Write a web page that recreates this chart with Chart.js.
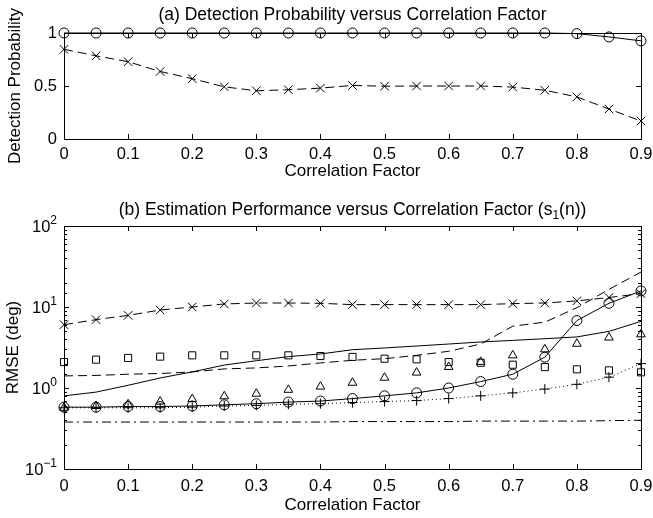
<!DOCTYPE html>
<html>
<head>
<meta charset="utf-8">
<script src="https://cdn.jsdelivr.net/npm/chart.js@4.4.1/dist/chart.umd.min.js"></script>
<style>
  html, body { margin: 0; padding: 0; background: #fff; }
  #wrap { position: relative; width: 653px; height: 518px; }
  canvas { position: absolute; left: 0; }
  #chartA { top: 0; }
  #chartB { top: 190px; }
</style>
</head>
<body>
<div id="wrap">
  <canvas id="chartA" width="653" height="190"></canvas>
  <canvas id="chartB" width="653" height="328"></canvas>
</div>
<script>
// correlation factor (x axis of both panels)
const corrFactor = [0, 0.05, 0.1, 0.15, 0.2, 0.25, 0.3, 0.35, 0.4, 0.45, 0.5, 0.55, 0.6, 0.65, 0.7, 0.75, 0.8, 0.85, 0.9];

// (a) detection probability
const detCircle = [1, 1, 1, 1, 1, 1, 1, 1, 1, 1, 1, 1, 1, 1, 1, 1, 0.994, 0.963, 0.926];
const detCross  = [0.846, 0.785, 0.729, 0.637, 0.569, 0.492, 0.455, 0.465, 0.48, 0.505, 0.498, 0.5, 0.5, 0.5, 0.49, 0.46, 0.397, 0.283, 0.17];

// (b) RMSE (deg), log scale
const rmseCross    = [6.05, 6.98, 7.88, 9.18, 10.0, 10.9, 11.2, 11.2, 11.1, 10.7, 10.7, 10.7, 10.7, 10.7, 11.0, 11.2, 11.9, 13.1, 14.6];
const rmseSquare   = [2.09, 2.24, 2.35, 2.44, 2.53, 2.53, 2.53, 2.53, 2.48, 2.42, 2.30, 2.26, 2.09, 2.05, 1.94, 1.81, 1.70, 1.65, 1.56];
const rmseDashed   = [1.41, 1.43, 1.48, 1.51, 1.58, 1.72, 1.77, 1.87, 2.04, 2.2, 2.3, 2.53, 2.84, 3.49, 5.8, 6.5, 9.8, 16.5, 27];
const rmseSolid    = [0.80, 0.89, 1.08, 1.33, 1.58, 1.92, 2.17, 2.44, 2.63, 2.97, 3.12, 3.3, 3.49, 3.7, 3.87, 4.06, 4.27, 5.0, 6.65];
const rmseCircle   = [0.58, 0.58, 0.59, 0.59, 0.6, 0.62, 0.64, 0.67, 0.69, 0.74, 0.8, 0.87, 1.0, 1.2, 1.48, 2.4, 6.8, 11.1, 15.8];
const rmseTriangle = [0.57, 0.6, 0.63, 0.68, 0.73, 0.79, 0.85, 0.95, 1.04, 1.16, 1.34, 1.55, 1.82, 2.1, 2.53, 3.0, 3.52, 4.2, 4.6];
const rmsePlus     = [0.57, 0.57, 0.57, 0.57, 0.58, 0.6, 0.61, 0.63, 0.64, 0.66, 0.68, 0.7, 0.74, 0.8, 0.87, 0.97, 1.11, 1.36, 2.0];
const rmseDashDot  = [0.38, 0.38, 0.38, 0.38, 0.38, 0.38, 0.38, 0.38, 0.38, 0.385, 0.385, 0.385, 0.385, 0.39, 0.39, 0.39, 0.39, 0.395, 0.4];

// text
const titleA = [{t: '(a) Detection Probability versus Correlation Factor', size: 17.5}];
const titleB = [{t: '(b) Estimation Performance versus Correlation Factor (s', size: 17.5},
                {t: '1', size: 12, sub: true}, {t: '(n))', size: 17.5}];
const xLabel = 'Correlation Factor';
const yLabelA = 'Detection Probability';
const yLabelB = 'RMSE (deg)';
const logTickLabels = [{base: '10', exp: '2', v: 100}, {base: '10', exp: '1', v: 10}, {base: '10', exp: '0', v: 1}, {base: '10', exp: '\u22121', v: 0.1}];

const FONT = 'Arial, "Liberation Sans", Helvetica, sans-serif';
const TICK = 16.5, LABEL = 17;
Chart.defaults.font.family = FONT;
Chart.defaults.font.size = TICK;
Chart.defaults.color = '#000';

const pts = vals => corrFactor.map((x, i) => ({x: x, y: vals[i]}));

function series(vals, style, dash, marker, radius) {
  return {
    data: pts(vals),
    borderColor: '#000',
    borderWidth: 1,
    borderDash: dash || [],
    showLine: style !== 'none',
    pointStyle: marker || 'circle',
    pointRadius: marker ? radius : 0,
    pointHoverRadius: marker ? radius : 0,
    pointBorderColor: '#000',
    pointBackgroundColor: 'rgba(0,0,0,0)',
    pointBorderWidth: 1,
    fill: false,
    tension: 0,
    clip: false
  };
}

// title text drawn above the axes, with optional subscript part
const panelTitle = {
  id: 'panelTitle',
  afterDraw(chart, args, opts) {
    const ctx = chart.ctx, a = chart.chartArea;
    let total = 0;
    opts.parts.forEach(p => {
      ctx.font = p.size + 'px ' + FONT;
      p.w = ctx.measureText(p.t).width;
      total += p.w;
    });
    let x = (a.left + a.right) / 2 - total / 2;
    ctx.save();
    ctx.fillStyle = '#000';
    ctx.textBaseline = 'alphabetic';
    ctx.textAlign = 'left';
    opts.parts.forEach(p => {
      ctx.font = p.size + 'px ' + FONT;
      ctx.fillText(p.t, x, opts.y + (p.sub ? 4 : 0));
      x += p.w;
    });
    ctx.restore();
  }
};

// box and inward tick marks, matlab style
const boxTicks = {
  id: 'boxTicks',
  afterDatasetsDraw(chart) {
    const ctx = chart.ctx, a = chart.chartArea;
    const xs = chart.scales.x, ys = chart.scales.y;
    ctx.save();
    ctx.strokeStyle = '#000';
    ctx.lineWidth = 1;
    ctx.beginPath();
    xs.ticks.forEach(t => {
      const px = Math.round(xs.getPixelForValue(t.value)) + 0.5;
      ctx.moveTo(px, a.bottom); ctx.lineTo(px, a.bottom - 5);
      ctx.moveTo(px, a.top); ctx.lineTo(px, a.top + 5);
    });
    ys.ticks.forEach(t => {
      let len = 5;
      if (ys.type === 'logarithmic') {
        const l = Math.log10(t.value);
        len = Math.abs(l - Math.round(l)) < 1e-6 ? 5 : 3;
      }
      const py = Math.round(ys.getPixelForValue(t.value)) + 0.5;
      ctx.moveTo(a.left, py); ctx.lineTo(a.left + len, py);
      ctx.moveTo(a.right, py); ctx.lineTo(a.right - len, py);
    });
    ctx.stroke();
    ctx.strokeRect(Math.round(a.left) + 0.5, Math.round(a.top) + 0.5, Math.round(a.width), Math.round(a.height));
    ctx.restore();
  }
};

// 10^n labels for the log axis
const logLabels = {
  id: 'logLabels',
  afterDraw(chart) {
    const ctx = chart.ctx, ys = chart.scales.y, a = chart.chartArea;
    if (ys.type !== 'logarithmic') return;
    ctx.save();
    ctx.fillStyle = '#000';
    ctx.textBaseline = 'alphabetic';
    ctx.textAlign = 'left';
    logTickLabels.forEach(l => {
      const py = ys.getPixelForValue(l.v);
      ctx.font = '12px ' + FONT;
      const ew = ctx.measureText(l.exp).width;
      ctx.font = TICK + 'px ' + FONT;
      const bw = ctx.measureText(l.base).width;
      const right = a.left - 7;
      ctx.fillText(l.base, right - ew - bw, py + 6);
      ctx.font = '12px ' + FONT;
      ctx.fillText(l.exp, right - ew, py - 2);
    });
    ctx.restore();
  }
};

function xScale(tickPad, titlePad, h) {
  return {
    type: 'linear', min: 0, max: 0.9,
    grid: {display: false, drawTicks: false},
    border: {display: false},
    ticks: {stepSize: 0.1, padding: tickPad},
    title: {display: true, text: xLabel, font: {size: LABEL}, padding: {top: 0, bottom: titlePad}},
    afterFit: s => { s.height = h; s.paddingLeft = 0; s.paddingRight = 0; }
  };
}

new Chart(document.getElementById('chartA'), {
  type: 'scatter',
  data: {
    datasets: [
      series(detCircle, 'solid', [], 'circle', 5),
      series(detCross, 'dashed', [9, 5], 'crossRot', 6)
    ]
  },
  options: {
    responsive: false,
    animation: false,
    events: [],
    layout: {padding: {top: 33, right: 12, left: 0, bottom: 0}},
    scales: {
      x: xScale(6, 8, 51),
      y: {
        type: 'linear', min: 0, max: 1,
        grid: {display: false, drawTicks: false},
        border: {display: false},
        ticks: {stepSize: 0.5, padding: 7, callback: v => String(+v.toFixed(2))},
        title: {display: true, text: yLabelA, font: {size: LABEL}, padding: {top: 5, bottom: 0}},
        afterFit: s => { s.width = 64; }
      }
    },
    plugins: {
      legend: {display: false},
      tooltip: {enabled: false},
      panelTitle: {parts: titleA, y: 20}
    }
  },
  plugins: [boxTicks, panelTitle]
});

new Chart(document.getElementById('chartB'), {
  type: 'scatter',
  data: {
    datasets: [
      series(rmseCross, 'dashed', [9, 5], 'crossRot', 6),
      series(rmseSquare, 'none', [], 'rect', 5),
      series(rmseDashed, 'dashed', [9, 5], null, 0),
      series(rmseSolid, 'solid', [], null, 0),
      series(rmseCircle, 'solid', [], 'circle', 5),
      series(rmseTriangle, 'none', [], 'triangle', 5),
      series(rmsePlus, 'dotted', [1, 3], 'cross', 5),
      series(rmseDashDot, 'dashdot', [9, 4, 2, 4], null, 0)
    ]
  },
  options: {
    responsive: false,
    animation: false,
    events: [],
    layout: {padding: {top: 36, right: 12, left: 0, bottom: 0}},
    scales: {
      x: xScale(8, 2, 49),
      y: {
        type: 'logarithmic', min: 0.1, max: 100,
        grid: {display: false, drawTicks: false},
        border: {display: false},
        ticks: {display: false},
        title: {display: true, text: yLabelB, font: {size: LABEL}, padding: {top: 3, bottom: 0}},
        afterFit: s => { s.width = 64; }
      }
    },
    plugins: {
      legend: {display: false},
      tooltip: {enabled: false},
      panelTitle: {parts: titleB, y: 25}
    }
  },
  plugins: [boxTicks, panelTitle, logLabels]
});
</script>
</body>
</html>
